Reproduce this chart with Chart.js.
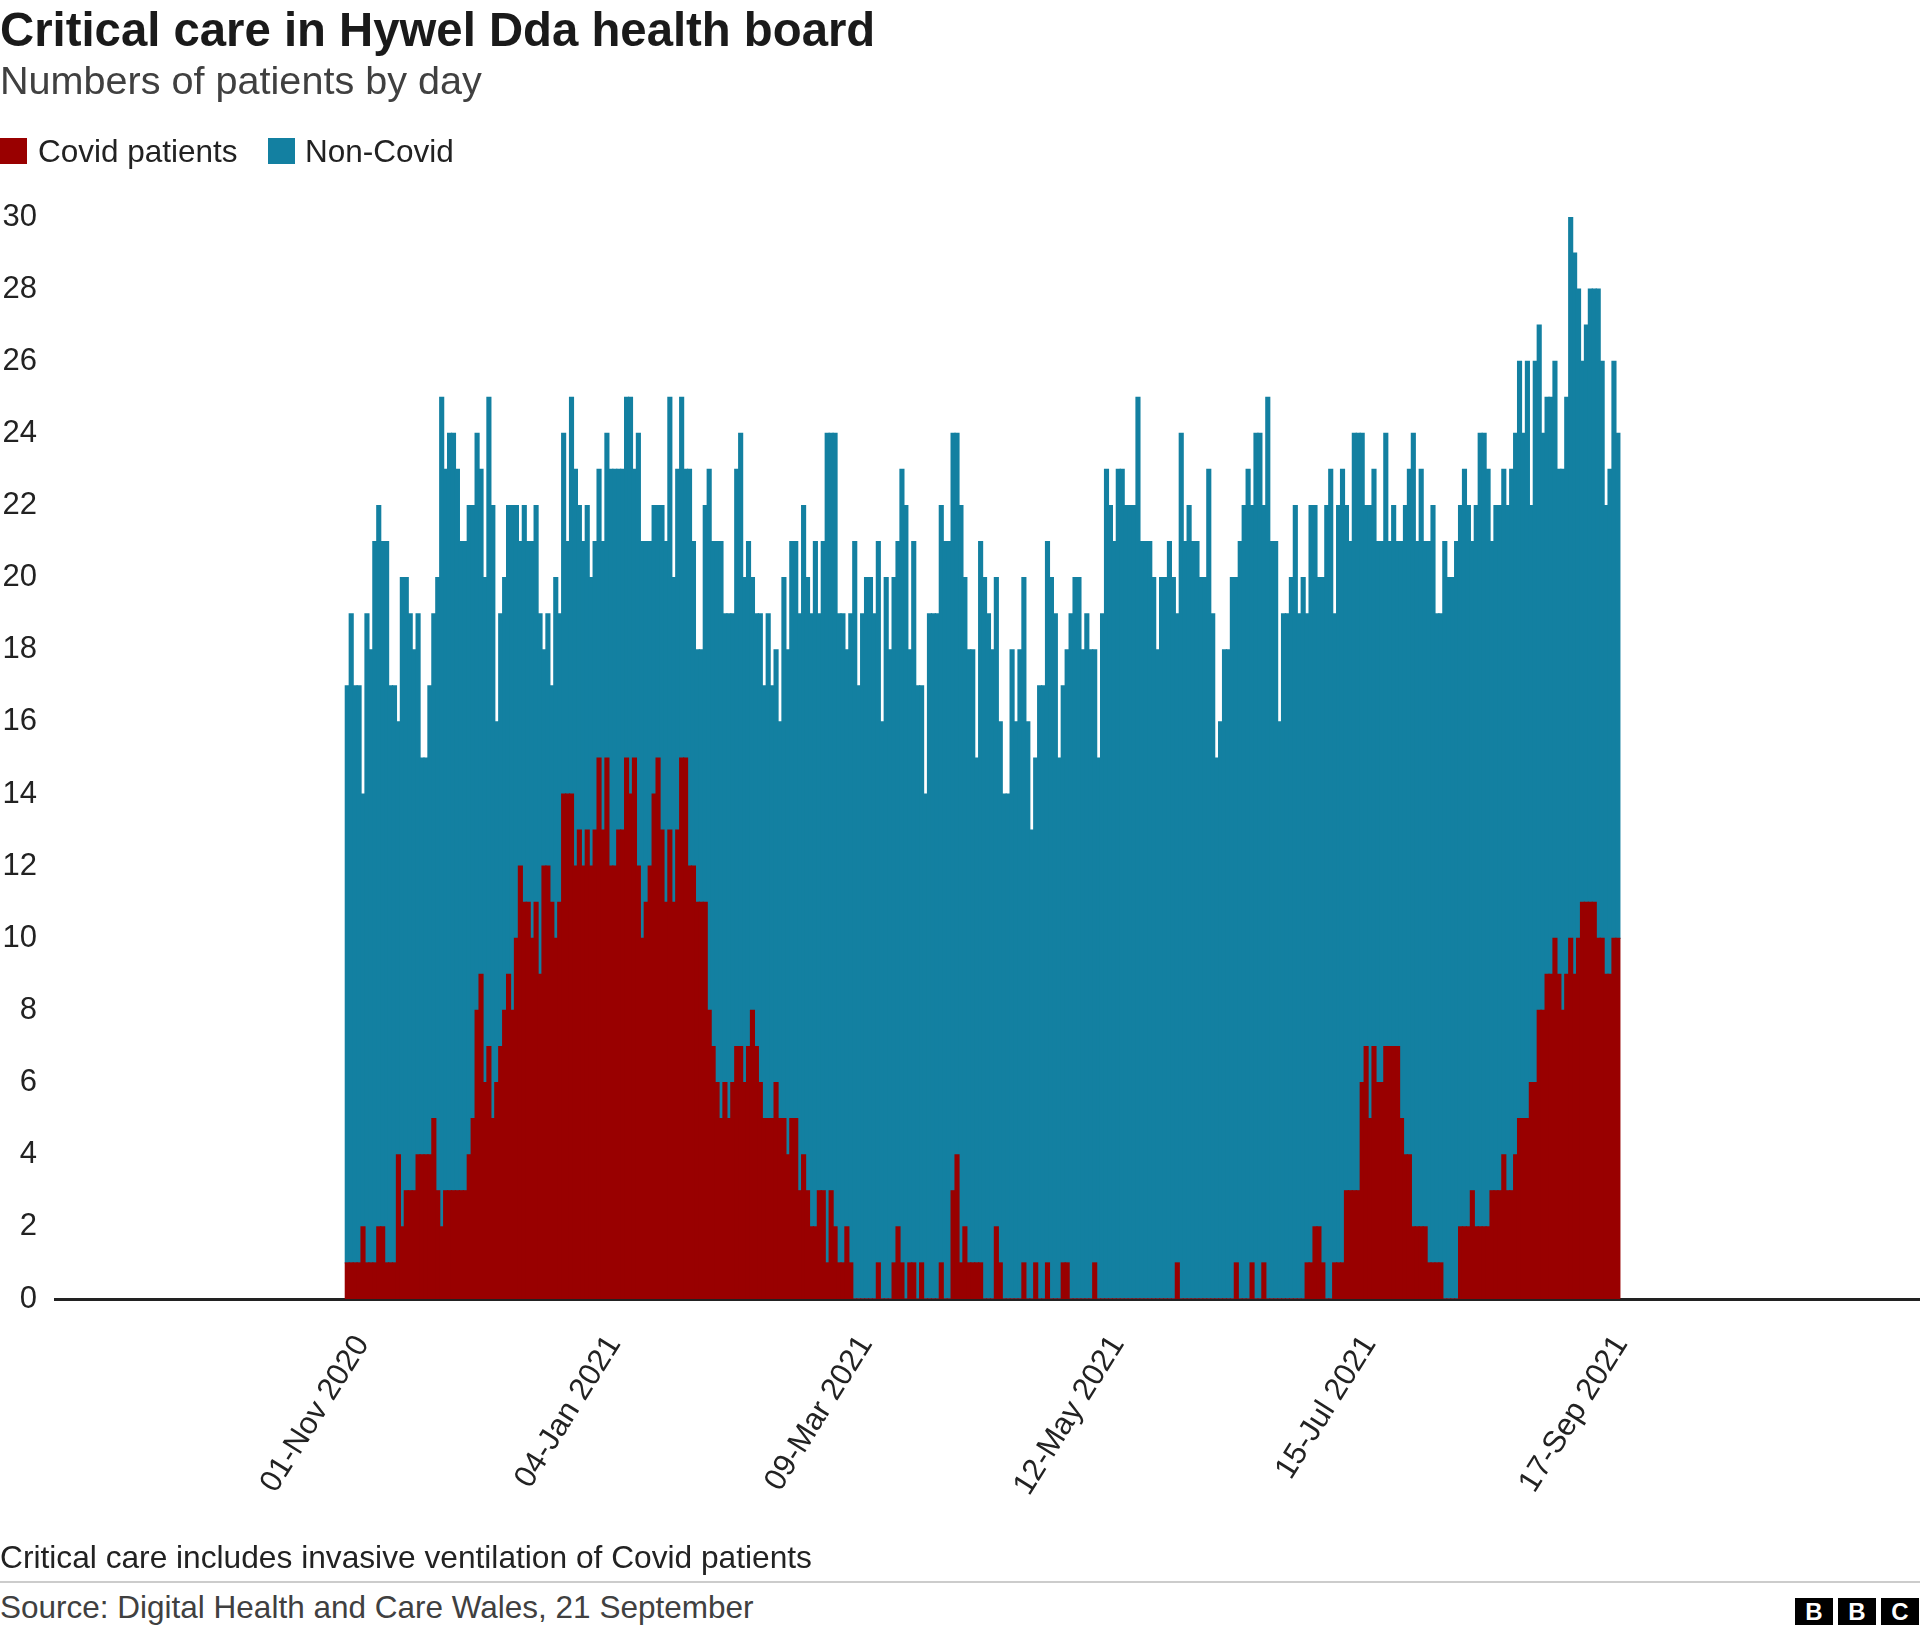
<!DOCTYPE html>
<html>
<head>
<meta charset="utf-8">
<title>Critical care in Hywel Dda health board</title>
<script src="https://cdn.jsdelivr.net/npm/chart.js@4.4.1/dist/chart.umd.min.js"></script>
<style>
	html, body { margin: 0; padding: 0; background: #fff; }
	body { width: 1920px; height: 1636px; position: relative; overflow: hidden;
		font-family: 'Liberation Sans', Arial, Helvetica, sans-serif; color: #222; }
	.txt { position: absolute; left: 0; white-space: nowrap; line-height: 1; }
	#title { top: 6px; font-size: 47.3px; font-weight: bold; color: #1a1a1a; }
	#subtitle { top: 61px; font-size: 39.6px; color: #404040; }
	.key { position: absolute; top: 138px; width: 27px; height: 26px; }
	.keyText { position: absolute; top: 136px; font-size: 31.5px; line-height: 1; color: #222; white-space: nowrap; }
	#chartBox { position: absolute; left: 0; top: 0; width: 1920px; height: 1540px; }
	#note { top: 1542px; font-size: 31.7px; color: #222; }
	#rule { position: absolute; left: 0; top: 1581px; width: 1920px; height: 2px; background: #ccc; }
	#source { top: 1592px; font-size: 31.5px; color: #404040; }
	.logo { position: absolute; top: 1598px; width: 38px; height: 27px; background: #000; color: #fff;
		font-weight: bold; font-size: 24px; line-height: 27px; text-align: center; }
</style>
</head>
<body>
<div id="chartBox"><canvas id="chart" width="1920" height="1540"></canvas></div>

<div class="txt" id="title">Critical care in Hywel Dda health board</div>
<div class="txt" id="subtitle">Numbers of patients by day</div>

<div class="key" style="left:0; background:#990000;"></div>
<div class="keyText" style="left:38px;">Covid patients</div>
<div class="key" style="left:268px; background:#1380A1;"></div>
<div class="keyText" style="left:305px;">Non-Covid</div>

<div class="txt" id="note">Critical care includes invasive ventilation of Covid patients</div>
<div id="rule"></div>
<div class="txt" id="source">Source: Digital Health and Care Wales, 21 September</div>
<div class="logo" style="left:1795px;">B</div>
<div class="logo" style="left:1838px;">B</div>
<div class="logo" style="left:1881px;">C</div>

<script>
// one value per day, from 01-Nov 2020 to 20-Sep 2021
var covid = [
	1, 1, 1, 1, 2, 1, 1, 1, 2, 2, 1, 1, 1, 4, 2, 3, 3, 3, 4, 4,
	4, 4, 5, 3, 2, 3, 3, 3, 3, 3, 3, 4, 5, 8, 9, 6, 7, 5, 6, 7,
	8, 9, 8, 10, 12, 11, 11, 10, 11, 9, 12, 12, 11, 10, 11, 14, 14, 14, 12, 13,
	12, 13, 12, 13, 15, 13, 15, 12, 12, 13, 13, 15, 14, 15, 12, 10, 11, 12, 14, 15,
	13, 11, 13, 11, 13, 15, 15, 12, 12, 11, 11, 11, 8, 7, 6, 5, 6, 5, 6, 7,
	7, 6, 7, 8, 7, 6, 5, 5, 5, 6, 5, 5, 4, 5, 5, 3, 4, 3, 2, 2,
	3, 3, 1, 3, 2, 1, 1, 2, 1, 0, 0, 0, 0, 0, 0, 1, 0, 0, 0, 1,
	2, 1, 0, 1, 1, 0, 1, 0, 0, 0, 0, 1, 0, 0, 3, 4, 1, 2, 1, 1,
	1, 1, 0, 0, 0, 2, 1, 0, 0, 0, 0, 0, 1, 0, 0, 1, 0, 0, 1, 0,
	0, 0, 1, 1, 0, 0, 0, 0, 0, 0, 1, 0, 0, 0, 0, 0, 0, 0, 0, 0,
	0, 0, 0, 0, 0, 0, 0, 0, 0, 0, 0, 1, 0, 0, 0, 0, 0, 0, 0, 0,
	0, 0, 0, 0, 0, 0, 1, 0, 0, 0, 1, 0, 0, 1, 0, 0, 0, 0, 0, 0,
	0, 0, 0, 0, 1, 1, 2, 2, 1, 0, 0, 1, 1, 1, 3, 3, 3, 3, 6, 7,
	5, 7, 6, 6, 7, 7, 7, 7, 5, 4, 4, 2, 2, 2, 2, 1, 1, 1, 1, 0,
	0, 0, 0, 2, 2, 2, 3, 2, 2, 2, 2, 3, 3, 3, 4, 3, 3, 4, 5, 5,
	5, 6, 6, 8, 8, 9, 9, 10, 9, 8, 9, 10, 9, 10, 11, 11, 11, 11, 10, 10,
	9, 9, 10, 10
];
var nonCovid = [
	16, 18, 16, 16, 12, 18, 17, 20, 20, 19, 20, 16, 16, 12, 18, 17, 16, 15, 15, 11,
	11, 13, 14, 17, 23, 20, 21, 21, 20, 18, 18, 18, 17, 16, 14, 14, 18, 17, 10, 12,
	12, 13, 14, 12, 9, 11, 10, 11, 11, 10, 6, 7, 6, 10, 8, 10, 7, 11, 11, 9,
	9, 9, 8, 8, 8, 8, 9, 11, 11, 10, 10, 10, 11, 8, 12, 11, 10, 9, 8, 7,
	9, 10, 12, 9, 10, 10, 8, 11, 9, 7, 7, 11, 15, 14, 15, 16, 13, 14, 13, 16,
	17, 14, 14, 12, 12, 13, 12, 14, 12, 12, 11, 15, 14, 16, 16, 16, 18, 17, 17, 19,
	16, 18, 23, 21, 22, 18, 18, 16, 18, 21, 17, 19, 20, 20, 19, 20, 16, 20, 18, 19,
	19, 22, 22, 17, 20, 17, 16, 14, 19, 19, 19, 21, 21, 21, 21, 20, 21, 18, 17, 17,
	14, 20, 20, 19, 18, 18, 15, 14, 14, 18, 16, 18, 19, 16, 13, 14, 17, 17, 20, 20,
	19, 15, 16, 17, 19, 20, 20, 18, 19, 18, 17, 15, 19, 23, 22, 21, 23, 23, 22, 22,
	22, 25, 21, 21, 21, 20, 18, 20, 20, 21, 20, 18, 24, 21, 22, 21, 21, 20, 20, 23,
	19, 15, 16, 18, 18, 20, 19, 21, 22, 23, 21, 24, 24, 21, 25, 21, 21, 16, 19, 19,
	20, 22, 19, 20, 18, 21, 20, 18, 19, 22, 23, 18, 21, 22, 19, 18, 21, 21, 18, 15,
	17, 16, 15, 15, 17, 14, 15, 14, 16, 18, 19, 22, 19, 21, 19, 20, 21, 18, 18, 21,
	20, 20, 21, 20, 21, 20, 18, 20, 22, 22, 21, 18, 19, 19, 19, 19, 20, 20, 21, 19,
	21, 16, 20, 19, 16, 16, 16, 16, 14, 15, 16, 20, 20, 18, 15, 16, 17, 17, 18, 16,
	13, 14, 16, 14
];

// x axis ticks, counted in days from 01-Nov 2020
var tickDays = [0, 64, 128, 192, 256, 320];
var tickLabels = ['01-Nov 2020', '04-Jan 2021', '09-Mar 2021', '12-May 2021', '15-Jul 2021', '17-Sep 2021'];
var yTicks = [0, 2, 4, 6, 8, 10, 12, 14, 16, 18, 20, 22, 24, 26, 28, 30];

function toPoints(list) {
	return list.map(function (v, i) {
		return { x: i, y: v };
	});
}

Chart.defaults.font.family = "'Liberation Sans', Arial, Helvetica, sans-serif";
Chart.defaults.color = '#222';

new Chart(document.getElementById('chart'), {
	type: 'bar',
	data: {
		datasets: [{
			label: 'Covid patients',
			data: toPoints(covid),
			backgroundColor: '#990000',
			barPercentage: 1,
			categoryPercentage: 1,
			inflateAmount: 0.6,
			borderWidth: 0
		}, {
			label: 'Non-Covid',
			data: toPoints(nonCovid),
			backgroundColor: '#1380A1',
			barPercentage: 1,
			categoryPercentage: 1,
			inflateAmount: 0.6,
			borderWidth: 0
		}]
	},
	options: {
		responsive: false,
		animation: false,
		events: [],
		layout: {
			padding: { top: 217, left: 0, right: 0, bottom: 0 }
		},
		plugins: {
			legend: { display: false },
			tooltip: { enabled: false },
			title: { display: false }
		},
		scales: {
			x: {
				type: 'linear',
				stacked: true,
				offset: false,
				min: -74.3,
				max: 399.8,
				grid: { display: false, drawTicks: false },
				border: { display: true, color: '#222', width: 3 },
				afterBuildTicks: function (scale) {
					scale.ticks = tickDays.map(function (d) {
						return { value: d };
					});
				},
				afterFit: function (scale) {
					scale.height = 241;
				},
				ticks: {
					autoSkip: false,
					minRotation: 58,
					maxRotation: 58,
					padding: 30,
					labelOffset: 15,
					font: { size: 31 },
					color: '#222',
					callback: function (value) {
						var idx = tickDays.indexOf(value);
						return idx === -1 ? '' : tickLabels[idx];
					}
				}
			},
			y: {
				stacked: true,
				min: 0,
				max: 30,
				grid: { display: false, drawTicks: false },
				border: { display: false },
				afterBuildTicks: function (scale) {
					scale.ticks = yTicks.map(function (v) {
						return { value: v };
					});
				},
				afterFit: function (scale) {
					scale.width = 55;
				},
				ticks: {
					padding: 18,
					font: { size: 31 },
					color: '#222'
				}
			}
		}
	}
});
</script>
</body>
</html>
